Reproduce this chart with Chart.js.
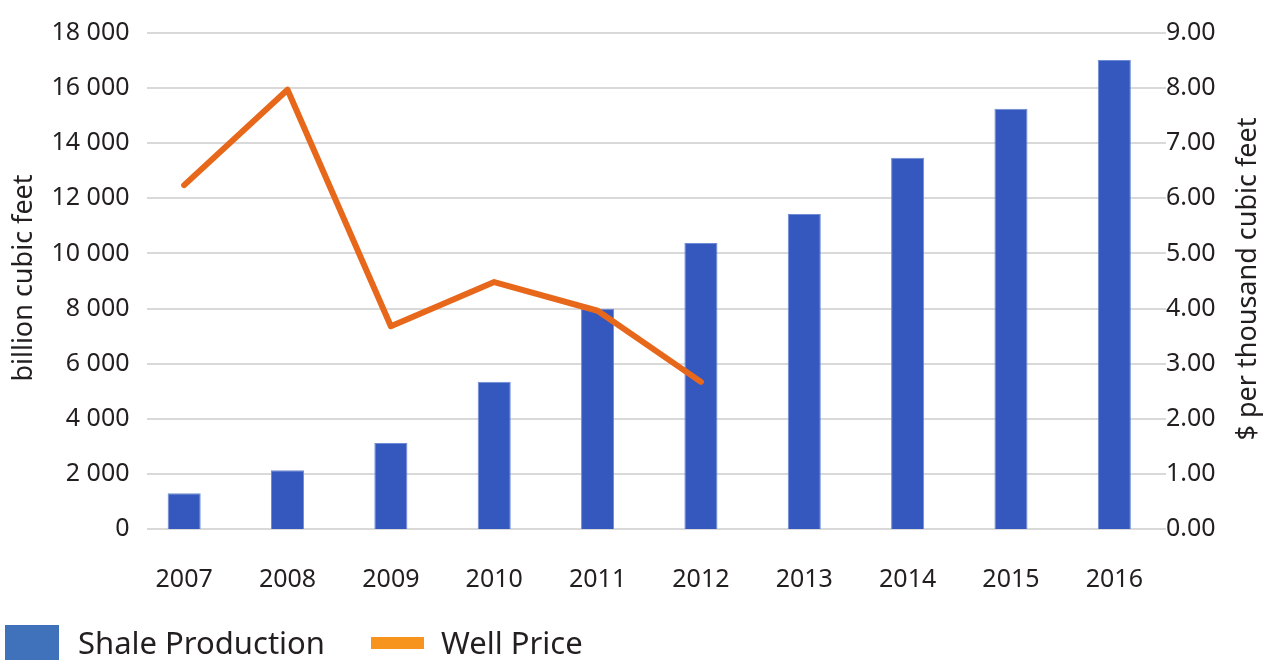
<!DOCTYPE html>
<html>
<head>
<meta charset="utf-8">
<script src="https://cdn.jsdelivr.net/npm/chart.js@4"></script>
<style>
  html, body { margin: 0; padding: 0; background: #fff; }
  #wrap { position: relative; width: 1270px; height: 660px; overflow: hidden; }
  #legend { position: absolute; left: 0; top: 0; width: 1270px; height: 660px; font-family: "Noto Sans", sans-serif; font-size: 31px; line-height: 31px; color: #231f20; pointer-events: none; }
  .item { position: absolute; top: 627px; white-space: nowrap; }
  .sw { position: absolute; }
</style>
</head>
<body>
<div id="wrap">
  <canvas id="shaleChart" width="1270" height="660"></canvas>
  <div id="legend">
    <div class="sw" style="left:5px;top:625px;width:54px;height:35px;background:#3f72ba"></div>
    <div class="item" style="left:78px">Shale Production</div>
    <div class="sw" style="left:371px;top:637px;width:53px;height:12px;background:#f7941d"></div>
    <div class="item" style="left:441px">Well Price</div>
  </div>
</div>
<script>
const years = ['2007', '2008', '2009', '2010', '2011', '2012', '2013', '2014', '2015', '2016'];
const shaleProduction = [1300, 2130, 3120, 5340, 7990, 10380, 11430, 13470, 15250, 17020];
const wellPrice = [6.24, 7.97, 3.68, 4.48, 3.96, 2.67, null, null, null, null];
const leftTicks = [0, 2000, 4000, 6000, 8000, 10000, 12000, 14000, 16000, 18000];
const rightTicks = [0, 1, 2, 3, 4, 5, 6, 7, 8, 9];

const fontFamily = '"Noto Sans", sans-serif';
const textColor = '#231f20';

// gridlines start a bit right of the category axis, as in the original
const gridPlugin = {
  id: 'grid',
  beforeDatasetsDraw(chart) {
    const { ctx, chartArea, scales } = chart;
    ctx.save();
    ctx.strokeStyle = '#d9d9d9';
    ctx.lineWidth = 2;
    leftTicks.forEach(v => {
      const y = Math.round(scales.y.getPixelForValue(v));
      ctx.beginPath();
      ctx.moveTo(chartArea.left + 14.5, y);
      ctx.lineTo(chartArea.right, y);
      ctx.stroke();
    });
    ctx.restore();
  }
};

// both axis titles read bottom to top
const titlePlugin = {
  id: 'titles',
  afterDraw(chart) {
    const { ctx, chartArea } = chart;
    const mid = (chartArea.top + chartArea.bottom) / 2;
    const drawTitle = (text, x, y) => {
      ctx.save();
      ctx.fillStyle = textColor;
      ctx.font = '27px ' + fontFamily;
      ctx.textAlign = 'center';
      ctx.textBaseline = 'alphabetic';
      ctx.translate(x, y);
      ctx.rotate(-Math.PI / 2);
      ctx.fillText(text, 0, 0);
      ctx.restore();
    };
    drawTitle('billion cubic feet', 32, mid - 3);
    drawTitle('$ per thousand cubic feet', 1256, mid - 2);
  }
};

const fmtThousands = v => String(v).replace(/\B(?=(\d{3})+(?!\d))/g, ' ');

new Chart(document.getElementById('shaleChart'), {
  type: 'bar',
  data: {
    labels: years,
    datasets: [
      {
        type: 'line',
        label: 'Well Price',
        data: wellPrice,
        yAxisID: 'y1',
        borderColor: '#e8681b',
        borderWidth: 6,
        borderCapStyle: 'round',
        borderJoinStyle: 'round',
        pointRadius: 0,
        tension: 0,
        spanGaps: false,
        order: 0
      },
      {
        label: 'Shale Production',
        data: shaleProduction,
        yAxisID: 'y',
        backgroundColor: '#3458be',
        borderColor: '#6f8bd6',
        borderWidth: 1,
        barPercentage: 0.32,
        categoryPercentage: 1,
        order: 1
      }
    ]
  },
  options: {
    responsive: false,
    animation: false,
    layout: { padding: { top: 33, bottom: 50, left: 0, right: 0 } },
    plugins: {
      legend: { display: false },
      tooltip: { enabled: false }
    },
    scales: {
      x: {
        grid: { display: false },
        border: { display: false },
        ticks: { color: textColor, font: { family: fontFamily, size: 25 }, padding: 28, maxRotation: 0 },
        afterFit(scale) { scale.height = 81; }
      },
      y: {
        position: 'left',
        min: 0,
        max: 18000,
        afterBuildTicks(scale) { scale.ticks = leftTicks.map(v => ({ value: v })); },
        grid: { display: false, drawTicks: false },
        border: { display: false },
        ticks: { color: textColor, font: { family: fontFamily, size: 25 }, padding: 3, callback: v => fmtThousands(v) },
        afterFit(scale) { scale.width = 132.5; }
      },
      y1: {
        position: 'right',
        min: 0,
        max: 9,
        afterBuildTicks(scale) { scale.ticks = rightTicks.map(v => ({ value: v })); },
        grid: { display: false, drawTicks: false },
        border: { display: false },
        ticks: { color: textColor, font: { family: fontFamily, size: 25 }, padding: 0, callback: v => Number(v).toFixed(2) },
        afterFit(scale) { scale.width = 104; }
      }
    }
  },
  plugins: [gridPlugin, titlePlugin]
});
</script>
</body>
</html>
